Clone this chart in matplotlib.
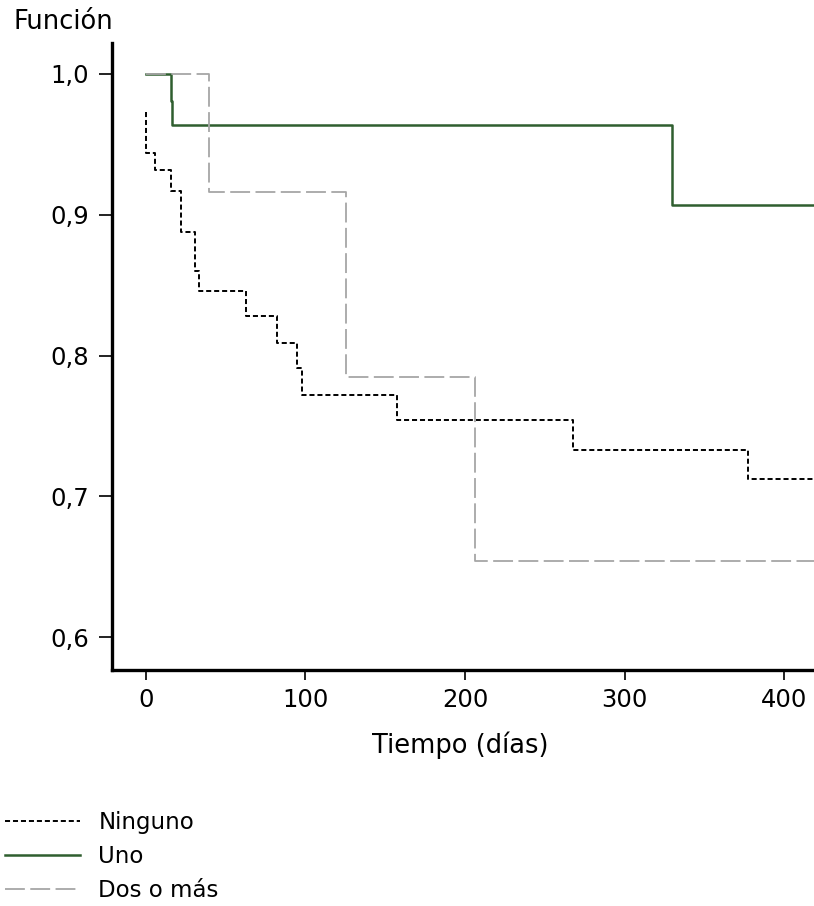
import matplotlib.pyplot as plt

# Kaplan-Meier step data (time in days, survival function)
t_ninguno = [0, 0, 5.6, 15.6, 22, 30.6, 33, 63, 82, 95, 98, 157.5, 267.5, 377.5, 420]
s_ninguno = [0.973, 0.944, 0.932, 0.917, 0.888, 0.860, 0.846, 0.828, 0.809, 0.791,
             0.772, 0.754, 0.733, 0.712, 0.712]

t_uno = [0, 16, 16.5, 330, 420]
s_uno = [1.0, 0.981, 0.964, 0.907, 0.907]

t_dos = [0, 39.4, 125.6, 206, 420]
s_dos = [1.0, 0.916, 0.785, 0.654, 0.654]

x_ticks = [0, 100, 200, 300, 400]
y_ticks = [0.6, 0.7, 0.8, 0.9, 1.0]
y_tick_labels = ['0,6', '0,7', '0,8', '0,9', '1,0']

plt.rcParams['font.family'] = ['DejaVu Sans']

fig = plt.figure(figsize=(8.14, 9.06), dpi=100)
ax = fig.add_axes([112 / 814, 1 - 669.5 / 906, 1 - 112 / 814, (669.5 - 43) / 906])

ax.plot(t_ninguno, s_ninguno, drawstyle='steps-post', color='black', lw=1.4,
        linestyle=(0, (2.6, 1.5)), label='Ninguno')
ax.plot(t_uno, s_uno, drawstyle='steps-post', color='#2f5e2f', lw=1.8,
        label='Uno')
ax.plot(t_dos, s_dos, drawstyle='steps-post', color='#a6a6a6', lw=1.3,
        linestyle=(0, (11, 3)), label='Dos o más')

ax.set_xlim(-21.25, 418.75)
ax.set_ylim(0.577, 1.022)
ax.set_xticks(x_ticks)
ax.set_yticks(y_ticks)
ax.set_yticklabels(y_tick_labels)

for side in ['top', 'right']:
    ax.spines[side].set_visible(False)
for side in ['left', 'bottom']:
    ax.spines[side].set_linewidth(2.4)
ax.tick_params(axis='both', labelsize=17.5, width=1.4, color='#222222')
ax.tick_params(axis='x', length=7.2, pad=6)
ax.tick_params(axis='y', length=9.4, pad=7)

fig.text(13 / 814, 1 - 22 / 906, 'Función', fontsize=18.5, va='center', ha='left')
fig.text(460 / 814, 1 - 745 / 906, 'Tiempo (días)', fontsize=18.5, va='center', ha='center')

fig.legend(loc='upper left', bbox_to_anchor=(5 / 814, 1 - 811 / 906), frameon=False,
           fontsize=16.5, handlelength=3.28, handletextpad=0.79, labelspacing=0.48,
           borderaxespad=0, borderpad=0)

fig.savefig('out.png', dpi=100)
